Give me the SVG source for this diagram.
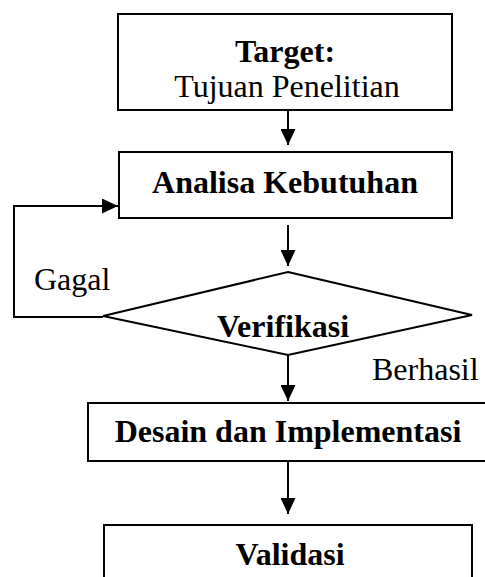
<svg xmlns="http://www.w3.org/2000/svg" width="485" height="577" viewBox="0 0 485 577">
<defs>
<style>
.box{fill:#fff;stroke:#000;stroke-width:2}
.ln{fill:none;stroke:#000;stroke-width:2}
.t{font-family:"Liberation Serif","Times New Roman",serif;font-size:32px;fill:#000}
.b{font-weight:bold}
</style>
<marker id="ah" viewBox="0 0 16 15" refX="16" refY="7.5" markerWidth="16" markerHeight="15" markerUnits="userSpaceOnUse" orient="auto">
<path d="M0,0 L16,7.5 L0,15 Z" fill="#000"/>
</marker>
</defs>
<rect width="485" height="577" fill="#fff"/>
<g id="connectors">
<line class="ln" x1="288" y1="110" x2="288" y2="145" marker-end="url(#ah)"/>
<line class="ln" x1="288" y1="225" x2="288" y2="266" marker-end="url(#ah)"/>
<polyline class="ln" points="103,317 14,317 14,206 118,206" marker-end="url(#ah)"/>
<line class="ln" x1="288" y1="355" x2="288" y2="401" marker-end="url(#ah)"/>
<line class="ln" x1="288" y1="461" x2="288" y2="514" marker-end="url(#ah)"/>
<text class="t" x="34" y="290">Gagal</text>
<text class="t" x="372" y="380">Berhasil</text>
</g>
<g id="target">
<rect class="box" x="118" y="14" width="334" height="96"/>
<text class="t b" x="285" y="62" text-anchor="middle">Target:</text>
<text class="t" x="287" y="97" text-anchor="middle">Tujuan Penelitian</text>
</g>
<g id="analisa">
<rect class="box" x="119" y="152" width="333" height="66"/>
<text class="t b" x="285" y="193" text-anchor="middle">Analisa Kebutuhan</text>
</g>
<g id="verifikasi">
<polygon class="box" points="288,272 472,315 288,355 103,316"/>
<text class="t b" x="283" y="337" text-anchor="middle">Verifikasi</text>
</g>
<g id="desain">
<rect class="box" x="88" y="403" width="400" height="58"/>
<text class="t b" x="288" y="442" text-anchor="middle">Desain dan Implementasi</text>
</g>
<g id="validasi">
<rect class="box" x="104" y="525" width="368" height="60"/>
<text class="t b" x="290" y="565" text-anchor="middle">Validasi</text>
</g>
</svg>
